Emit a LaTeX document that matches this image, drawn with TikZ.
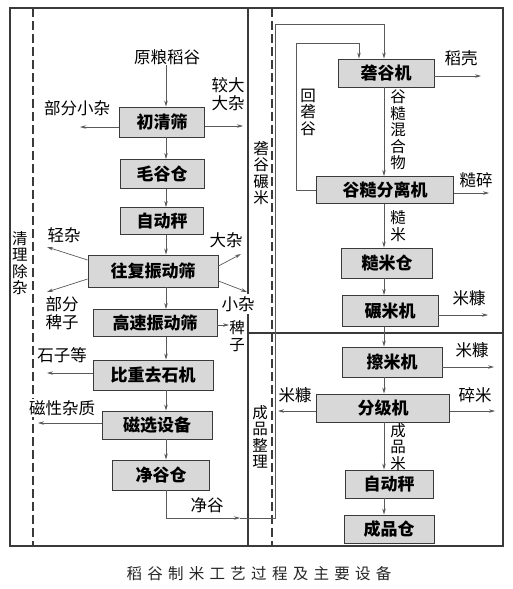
\documentclass[tikz,border=0pt]{standalone}
\usepackage{fontspec}
\newfontfamily\cjk{Noto Sans CJK SC}
\newfontfamily\cjkcap[LetterSpace=34]{Noto Sans CJK SC}
\usetikzlibrary{arrows.meta}
\definecolor{ln}{HTML}{3A3A3A}
\definecolor{bx}{HTML}{D8D8D8}
\definecolor{ar}{HTML}{5A5A5A}
\begin{document}
\begin{tikzpicture}[x=1pt,y=-1pt,
 box/.style={draw=ln, fill=bx, line width=0.9pt, inner sep=0pt, text=black,
   font=\cjk\bfseries\fontsize{17}{17}\selectfont},
 lbl/.style={inner sep=0pt, align=center, text=black, font=\cjk\fontsize{16.5}{17.5}\selectfont},
 vlbl/.style={inner sep=0pt, align=center, text=black, font=\cjk\fontsize{15.5}{16.5}\selectfont},
 arr/.style={draw=ar, line width=0.7pt, -{Stealth[length=6pt,width=3.5pt]}},
 frame/.style={draw=ln, line width=1.3pt},
 dsh/.style={draw=ln, line width=1.1pt, dash pattern=on 9pt off 4pt}]
\fill[white] (0,0) rectangle (513,589);
\useasboundingbox (0,0) rectangle (513,589);

% frames
\draw[frame] (10,8) rectangle (503,546);
\draw[frame] (248,8) -- (248,546);
\draw[frame] (248,333) -- (503,333);
\draw[dsh] (33,8) -- (33,546);
\draw[dsh] (272,8) -- (272,546);

% region labels
\node[vlbl] (r1) at (20,263) {清\\理\\除\\杂};
\node[vlbl] (r2) at (261,173) {砻\\谷\\碾\\米};
\node[vlbl] (r3) at (260,437) {成\\品\\整\\理};

\coordinate (ax) at (166,0);
\coordinate (rx) at (384,0);

% left column
\node[lbl] (yuan) at (167,57) {原粮稻谷};
\node[box, minimum width=85pt, minimum height=30pt] (b1) at (162,122) {初清筛};
\node[box, minimum width=84pt, minimum height=29pt] (b2) at (162,174) {毛谷仓};
\node[box, minimum width=83pt, minimum height=27pt] (b3) at (162,221) {自动秤};
\node[box, minimum width=130pt, minimum height=32pt] (b4) at (153,271) {往复振动筛};
\node[box, minimum width=124pt, minimum height=27pt] (b5) at (155,323) {高速振动筛};
\node[box, minimum width=120pt, minimum height=30pt] (b6) at (153,375) {比重去石机};
\node[box, minimum width=110pt, minimum height=28pt] (b7) at (157,425) {磁选设备};
\node[box, minimum width=97pt, minimum height=30pt] (b8) at (161,475) {净谷仓};

\node[lbl] (l1) at (77,108) {部分小杂};
\node[lbl] (l2) at (228,94) {较大\\大杂};
\node[lbl] (l3) at (64,235) {轻杂};
\node[lbl] (l4) at (62,313) {部分\\稗子};
\node[lbl] (l5) at (226,240) {大杂};
\node[lbl, fill=white, inner sep=2pt] (l6) at (238,304) {小杂};
\node[vlbl] (l7) at (237,336) {稗\\子};
\node[lbl] (l8) at (62,355) {石子等};
\node[lbl, fill=white, inner sep=1pt] (l9) at (62,408) {磁性杂质};
\node[lbl] (l10) at (207,505) {净谷};

\draw[arr] (yuan.south -| ax) -- (b1.north -| ax);
\foreach \a/\b in {b1/b2,b2/b3,b3/b4,b4/b5,b5/b6,b6/b7,b7/b8}
  \draw[arr] (\a.south -| ax) -- (\b.north -| ax);

\coordinate (e1) at (80,127);  \draw[arr] (b1.west |- e1) -- (e1);
\coordinate (e2) at (243,126); \draw[arr] (b1.east |- e2) -- (e2);
\coordinate (s3) at (0,260); \coordinate (e3) at (47,247); \draw[arr] (b4.west |- s3) -- (e3);
\coordinate (s4) at (0,279); \coordinate (e4) at (47,292); \draw[arr] (b4.west |- s4) -- (e4);
\coordinate (s5) at (0,266); \coordinate (e5) at (241,254); \draw[arr] (b4.east |- s5) -- (e5);
\coordinate (s6) at (0,281); \coordinate (e6) at (247,292); \draw[arr] (b4.east |- s6) -- (e6);
\coordinate (s7) at (0,325); \draw[arr] (b5.east |- s7) -- (l7.west |- s7);
\coordinate (e8) at (47,373); \draw[arr] (b6.west |- e8) -- (e8);
\coordinate (e9) at (38,423); \draw[arr] (b7.west |- e9) -- (e9);

% right column
\node[box, minimum width=96pt, minimum height=28pt] (rb1) at (386,73) {砻谷机};
\node[box, minimum width=137pt, minimum height=27pt] (rb2) at (385,190) {谷糙分离机};
\node[box, minimum width=91pt, minimum height=30pt] (rb3) at (387,263) {糙米仓};
\node[box, minimum width=96pt, minimum height=31pt] (rb4) at (390,311) {碾米机};
\node[box, minimum width=100pt, minimum height=30pt] (rb5) at (392,362) {擦米机};
\node[box, minimum width=133pt, minimum height=28pt] (rb6) at (383,408) {分级机};
\node[box, minimum width=88pt, minimum height=28pt] (rb7) at (389,484) {自动秤};
\node[box, minimum width=90pt, minimum height=28pt] (rb8) at (389,529) {成品仓};

\node[lbl] (m1) at (461,58) {稻壳};
\node[vlbl] (m2) at (308,112) {回\\砻\\谷};
\node[vlbl] (m3) at (398,130) {谷\\糙\\混\\合\\物};
\node[lbl] (m4) at (476,180) {糙碎};
\node[vlbl] (m5) at (398,226) {糙\\米};
\node[lbl] (m6) at (469,298) {米糠};
\node[lbl] (m7) at (472,350) {米糠};
\node[lbl] (m8) at (295,395) {米糠};
\node[lbl] (m9) at (475,395) {碎米};
\node[vlbl] (m10) at (398,447) {成\\品\\米};

\foreach \a/\b in {rb1/rb2,rb2/rb3,rb3/rb4,rb4/rb5,rb5/rb6,rb6/rb7,rb7/rb8}
  \draw[arr] (\a.south -| rx) -- (\b.north -| rx);

\coordinate (f1) at (481,76);  \draw[arr] (rb1.east |- f1) -- (f1);
\coordinate (f2) at (489,193); \draw[arr] (rb2.east |- f2) -- (f2);
\coordinate (f3) at (488,315); \draw[arr] (rb4.east |- f3) -- (f3);
\coordinate (f4) at (494,367); \draw[arr] (rb5.east |- f4) -- (f4);
\coordinate (f5) at (278,411); \draw[arr] (rb6.west |- f5) -- (f5);
\coordinate (f6) at (495,411); \draw[arr] (rb6.east |- f6) -- (f6);

% feed line: 净谷 -> 砻谷机
\coordinate (j1) at (240,518);
\coordinate (j2) at (275,518);
\coordinate (j3) at (275,24);
\draw[arr] (b8.south -| ax) |- (j1);
\draw[arr] (j1) -- (j2) -- (j3) -| (rb1.north -| rx);

% return line: 回砻谷
\coordinate (k1) at (296,43);
\coordinate (k2) at (359,0);
\draw[arr] (rb2.west) -| (k1) -| (rb1.north -| k2);

% caption
\node[inner sep=0pt, text=black!85, font=\cjkcap\fontsize{15.5}{15.5}\selectfont] (cap) at (259,574) {稻谷制米工艺过程及主要设备};
\end{tikzpicture}
\end{document}
